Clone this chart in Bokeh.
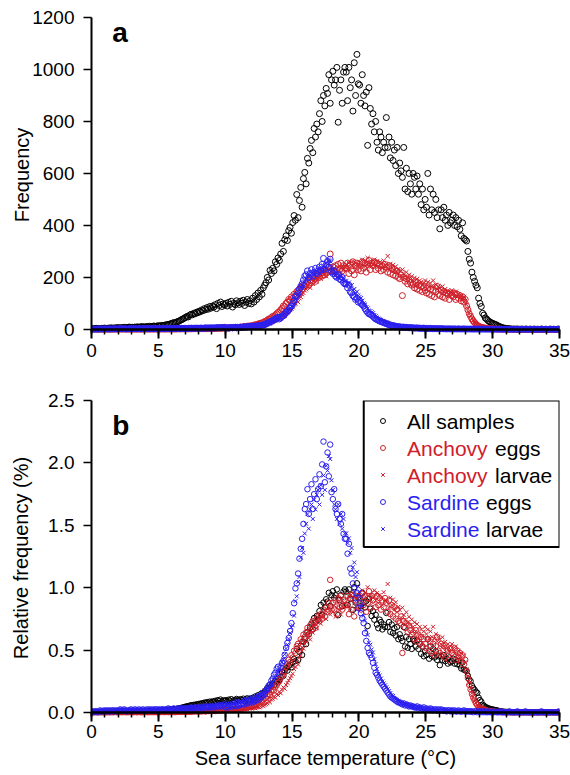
import numpy as np
from bokeh.plotting import figure
from bokeh.models import (Range1d, SingleIntervalTicker, PrintfTickFormatter,
                          Span, Label, BoxAnnotation, ColumnDataSource)
from bokeh.layouts import column
from bokeh.embed import file_html
from bokeh.resources import INLINE

FONT = "Liberation Sans"
BLACK = "#000000"
RED = "#d0202a"
BLUE = "#2a1ff0"

# temperature bins (0.1 degC wide), bin centres
bin_width = 0.1
n_bins = 350
temperature = np.round(np.arange(n_bins) * bin_width + bin_width / 2, 2)

# Frequency (counts) per 0.1 degC bin, one row per degree
all_samples = [
    2, 3, 2, 4, 3, 2, 3, 4, 3, 5,
    4, 3, 5, 4, 6, 5, 4, 6, 5, 7,
    6, 5, 7, 6, 8, 7, 6, 8, 9, 7,
    8, 7, 9, 8, 10, 8, 9, 11, 9, 10,
    9, 11, 10, 12, 10, 11, 13, 12, 11, 14,
    13, 14, 15, 14, 16, 17, 18, 19, 20, 22,
    24, 26, 25, 28, 30, 32, 35, 38, 40, 44,
    46, 50, 48, 55, 58, 56, 62, 60, 66, 64,
    70, 68, 75, 72, 80, 76, 84, 78, 88, 82,
    90, 86, 95, 80, 100, 92, 105, 88, 98, 94,
    100, 90, 104, 96, 108, 86, 100, 95, 110, 102,
    96, 108, 100, 112, 92, 105, 115, 100, 110, 98,
    120, 105, 130, 115, 140, 125, 150, 135, 160, 170,
    180, 200, 190, 227, 215, 235, 225, 260, 250, 275,
    265, 290, 331, 300, 345, 360, 342, 380, 392, 370,
    411, 438, 420, 519, 430, 496, 546, 470, 580, 604,
    560, 658, 640, 696, 727, 680, 773, 740, 790, 760,
    830, 880, 800, 900, 860, 927, 908, 980, 870, 960,
    993, 940, 960, 1008, 797, 920, 960, 870, 990, 1008,
    990, 880, 1008, 930, 960, 840, 1026, 900, 1058, 945,
    940, 870, 980, 900, 860, 913, 708, 930, 850, 790,
    830, 760, 800, 720, 690, 760, 740, 680, 720, 700,
    815, 700, 740, 660, 720, 650, 690, 630, 700, 600,
    640, 610, 585, 700, 540, 620, 530, 600, 560, 520,
    600, 585, 540, 590, 520, 560, 480, 540, 460, 500,
    470, 600, 440, 540, 460, 520, 450, 500, 430, 460,
    387, 460, 430, 470, 420, 440, 400, 450, 410, 420,
    440, 400, 430, 395, 420, 385, 360, 410, 350, 345,
    340, 300, 270, 255, 220, 200, 185, 170, 160, 120,
    100, 88, 62, 55, 44, 40, 34, 30, 27, 24,
    22, 20, 18, 15, 12, 10, 8, 6, 5, 4,
    3, 3, 2, 2, 1, 1, 1, 1, 1, 0,
    1, 0, 1, 0, 0, 1, 0, 0, 1, 0,
    0, 1, 0, 0, 0, 0, 1, 0, 0, 0,
    0, 0, 0, 1, 0, 0, 0, 0, 0, 1,
]

anchovy_eggs = [
    0, 0, 0, 0, 0, 0, 0, 0, 0, 0,
    0, 0, 0, 0, 0, 0, 0, 1, 0, 0,
    0, 1, 0, 0, 1, 0, 0, 0, 1, 0,
    0, 0, 1, 0, 0, 1, 0, 0, 0, 1,
    1, 0, 0, 1, 0, 1, 0, 1, 0, 0,
    1, 0, 1, 1, 0, 1, 1, 0, 1, 1,
    1, 1, 0, 1, 2, 1, 1, 2, 1, 2,
    2, 1, 2, 2, 1, 3, 2, 2, 3, 2,
    2, 3, 2, 3, 3, 2, 4, 3, 3, 4,
    3, 4, 3, 4, 5, 4, 5, 4, 6, 5,
    5, 6, 5, 6, 7, 6, 7, 8, 7, 8,
    8, 9, 8, 10, 11, 10, 12, 13, 12, 14,
    14, 16, 18, 17, 20, 22, 24, 23, 27, 30,
    32, 35, 40, 38, 45, 50, 48, 55, 60, 65,
    68, 75, 80, 90, 88, 100, 105, 115, 110, 125,
    120, 135, 130, 145, 150, 140, 160, 155, 170, 165,
    175, 185, 170, 190, 180, 200, 195, 185, 205, 210,
    200, 215, 205, 225, 210, 230, 220, 240, 290, 225,
    240, 225, 245, 215, 250, 230, 255, 225, 245, 235,
    235, 255, 215, 250, 225, 260, 210, 245, 255, 230,
    250, 225, 260, 235, 255, 220, 250, 265, 230, 255,
    245, 260, 230, 255, 235, 250, 225, 245, 230, 250,
    240, 220, 245, 215, 235, 210, 230, 205, 225, 200,
    195, 210, 130, 200, 185, 195, 175, 190, 180, 170,
    175, 160, 180, 155, 170, 150, 165, 145, 160, 150,
    140, 160, 135, 155, 130, 150, 125, 145, 165, 135,
    130, 150, 125, 145, 120, 140, 135, 115, 140, 130,
    125, 140, 115, 135, 120, 130, 110, 125, 105, 115,
    90, 75, 60, 50, 40, 32, 26, 20, 16, 12,
    10, 8, 7, 6, 5, 4, 3, 3, 2, 2,
    2, 1, 1, 1, 1, 0, 1, 0, 0, 0,
    0, 0, 0, 0, 0, 0, 0, 0, 0, 0,
    0, 0, 0, 0, 0, 0, 0, 0, 0, 0,
    0, 0, 0, 0, 0, 0, 0, 0, 0, 0,
    0, 0, 0, 0, 0, 0, 0, 0, 0, 0,
]

anchovy_larvae = [
    0, 0, 0, 0, 0, 0, 0, 0, 0, 0,
    0, 0, 0, 0, 0, 0, 0, 0, 0, 0,
    0, 0, 0, 1, 0, 0, 0, 0, 0, 0,
    0, 0, 0, 0, 0, 1, 0, 0, 0, 0,
    0, 0, 1, 0, 0, 0, 0, 1, 0, 0,
    0, 1, 0, 0, 1, 0, 0, 1, 0, 1,
    0, 1, 1, 0, 1, 1, 0, 1, 1, 1,
    1, 1, 1, 2, 1, 1, 2, 1, 2, 2,
    1, 2, 2, 1, 2, 2, 3, 2, 2, 3,
    2, 3, 2, 3, 3, 3, 4, 3, 4, 4,
    4, 3, 4, 5, 4, 5, 5, 6, 5, 6,
    6, 5, 7, 6, 7, 8, 7, 9, 8, 9,
    9, 10, 9, 11, 12, 11, 13, 15, 14, 16,
    18, 20, 25, 22, 28, 30, 35, 32, 40, 38,
    45, 42, 50, 55, 52, 60, 65, 70, 75, 80,
    85, 95, 100, 110, 105, 120, 125, 135, 140, 150,
    155, 165, 170, 160, 180, 175, 190, 195, 185, 200,
    205, 195, 215, 210, 225, 205, 220, 230, 215, 225,
    220, 235, 210, 230, 240, 225, 215, 245, 230, 240,
    250, 232, 255, 228, 245, 262, 240, 255, 230, 250,
    258, 245, 268, 240, 262, 250, 275, 245, 258, 242,
    252, 268, 246, 262, 240, 258, 252, 236, 264, 246,
    242, 282, 230, 252, 236, 248, 226, 242, 220, 232,
    225, 208, 230, 214, 204, 220, 198, 210, 192, 204,
    188, 198, 178, 194, 172, 188, 182, 168, 178, 188,
    172, 182, 162, 178, 166, 188, 162, 172, 156, 166,
    160, 150, 165, 145, 155, 140, 150, 135, 145, 150,
    140, 130, 145, 125, 135, 120, 130, 115, 125, 110,
    95, 80, 65, 52, 42, 34, 27, 21, 16, 12,
    10, 8, 6, 5, 4, 4, 3, 2, 2, 1,
    1, 1, 1, 0, 1, 0, 0, 0, 0, 0,
    0, 0, 0, 0, 0, 0, 0, 0, 0, 0,
    0, 0, 0, 0, 0, 0, 0, 0, 0, 0,
    0, 0, 0, 0, 0, 0, 0, 0, 0, 0,
    0, 0, 0, 0, 0, 0, 0, 0, 0, 0,
]

sardine_eggs = [
    1, 0, 1, 1, 0, 1, 2, 1, 1, 2,
    1, 2, 1, 2, 1, 2, 2, 1, 2, 1,
    2, 3, 2, 2, 3, 2, 1, 2, 2, 3,
    2, 2, 3, 2, 2, 3, 2, 2, 3, 2,
    2, 3, 2, 3, 2, 3, 2, 3, 3, 2,
    3, 2, 3, 3, 2, 3, 3, 4, 3, 3,
    3, 4, 3, 3, 4, 3, 4, 4, 3, 4,
    4, 3, 4, 4, 5, 4, 4, 5, 4, 5,
    4, 5, 5, 4, 5, 6, 5, 5, 6, 5,
    6, 5, 6, 6, 7, 6, 7, 6, 7, 8,
    5, 6, 5, 6, 7, 6, 7, 7, 6, 8,
    7, 8, 8, 9, 8, 10, 9, 11, 10, 12,
    10, 11, 12, 12, 14, 13, 15, 16, 17, 18,
    22, 24, 27, 28, 32, 34, 38, 40, 44, 46,
    40, 45, 50, 52, 58, 65, 70, 75, 82, 90,
    100, 110, 125, 130, 140, 155, 165, 175, 190, 205,
    210, 225, 200, 215, 230, 205, 220, 235, 215, 225,
    240, 228, 250, 273, 232, 248, 262, 238, 270, 222,
    215, 225, 205, 200, 210, 195, 190, 200, 180, 175,
    175, 160, 170, 145, 140, 130, 125, 115, 120, 105,
    110, 100, 95, 90, 80, 72, 65, 60, 58, 55,
    50, 45, 40, 38, 35, 32, 30, 28, 26, 24,
    22, 20, 18, 16, 15, 14, 13, 12, 11, 10,
    10, 9, 8, 9, 7, 8, 7, 6, 7, 6,
    6, 5, 5, 6, 4, 5, 4, 4, 5, 3,
    4, 3, 3, 4, 3, 2, 3, 3, 2, 3,
    2, 3, 2, 2, 2, 1, 2, 2, 1, 2,
    1, 2, 1, 1, 2, 1, 1, 1, 2, 1,
    1, 1, 1, 1, 1, 0, 1, 1, 0, 1,
    1, 0, 1, 0, 1, 0, 0, 1, 0, 0,
    0, 1, 0, 0, 0, 1, 0, 0, 0, 0,
    0, 0, 1, 0, 0, 0, 0, 0, 1, 0,
    0, 0, 0, 0, 1, 0, 0, 0, 0, 0,
    0, 0, 0, 0, 0, 0, 1, 0, 0, 0,
    0, 0, 0, 0, 0, 0, 0, 0, 0, 1,
]

sardine_larvae = [
    0, 1, 0, 0, 1, 0, 1, 0, 0, 1,
    1, 0, 1, 1, 0, 1, 1, 1, 0, 1,
    1, 1, 2, 1, 1, 2, 1, 1, 2, 1,
    1, 2, 1, 2, 2, 1, 2, 2, 1, 2,
    2, 2, 1, 2, 2, 3, 2, 2, 3, 2,
    2, 3, 2, 3, 3, 2, 3, 3, 3, 4,
    3, 3, 4, 3, 4, 4, 3, 4, 4, 5,
    4, 4, 5, 4, 5, 5, 4, 5, 5, 6,
    5, 5, 6, 5, 6, 6, 7, 6, 6, 7,
    6, 7, 7, 6, 8, 7, 8, 7, 8, 9,
    8, 9, 8, 9, 10, 9, 10, 11, 10, 12,
    11, 12, 11, 13, 12, 14, 13, 15, 14, 16,
    15, 14, 16, 18, 17, 19, 18, 21, 20, 23,
    20, 23, 24, 27, 28, 31, 33, 36, 38, 42,
    44, 48, 52, 55, 60, 66, 70, 76, 82, 88,
    90, 100, 115, 120, 135, 140, 160, 170, 165, 185,
    195, 205, 190, 210, 215, 200, 220, 210, 225, 230,
    215, 235, 225, 245, 230, 255, 250, 265, 262, 240,
    230, 215, 210, 200, 215, 195, 205, 190, 200, 185,
    185, 175, 180, 165, 170, 150, 155, 140, 145, 130,
    125, 120, 110, 100, 95, 85, 80, 72, 70, 65,
    62, 55, 50, 45, 40, 38, 35, 32, 30, 28,
    26, 24, 22, 20, 18, 17, 15, 14, 13, 12,
    11, 10, 10, 9, 9, 8, 8, 7, 7, 6,
    6, 6, 5, 5, 5, 4, 4, 4, 3, 3,
    3, 3, 3, 2, 3, 2, 2, 2, 2, 2,
    2, 1, 2, 2, 1, 1, 2, 1, 1, 1,
    1, 1, 1, 1, 0, 1, 1, 0, 1, 1,
    1, 0, 1, 0, 1, 0, 0, 1, 0, 0,
    0, 1, 0, 0, 0, 1, 0, 0, 0, 0,
    0, 0, 0, 1, 0, 0, 0, 0, 0, 0,
    0, 0, 0, 0, 0, 0, 0, 1, 0, 0,
    0, 0, 0, 0, 0, 0, 0, 0, 0, 0,
    0, 0, 0, 0, 0, 0, 0, 0, 0, 0,
    0, 0, 0, 0, 0, 0, 0, 0, 0, 0,
]

series = [
    ("All samples", all_samples, BLACK, "circle"),
    ("Anchovy eggs", anchovy_eggs, RED, "circle"),
    ("Anchovy larvae", anchovy_larvae, RED, "x"),
    ("Sardine eggs", sardine_eggs, BLUE, "circle"),
    ("Sardine larvae", sardine_larvae, BLUE, "x"),
]

x_ticks_major = 5
freq_tick = 200
rel_tick = 0.5


def make_fig(height, top, bottom, y_end, y_pad, ytick, ylabel, label_standoff,
             title_standoff, xlabel=None, fmt=None):
    p = figure(width=570, height=height, x_range=Range1d(0, 35),
               y_range=Range1d(-y_pad, y_end), output_backend="svg",
               toolbar_location=None, min_border_left=91, min_border_right=11,
               min_border_top=top, min_border_bottom=bottom)
    p.outline_line_color = None
    p.grid.visible = False
    p.background_fill_color = "white"

    xa = p.xaxis[0]
    xa.ticker = SingleIntervalTicker(interval=x_ticks_major, num_minor_ticks=5)
    xa.axis_line_color = None
    xa.major_tick_in = 3
    xa.major_tick_out = 6
    xa.minor_tick_in = 3
    xa.minor_tick_out = 2
    xa.major_tick_line_width = 2
    xa.minor_tick_line_width = 1.5
    xa.major_tick_line_color = BLACK
    xa.minor_tick_line_color = BLACK
    xa.major_label_text_font = FONT
    xa.major_label_text_font_size = "19px"
    xa.major_label_text_color = BLACK
    xa.major_label_standoff = label_standoff
    if xlabel:
        xa.axis_label = xlabel
        xa.axis_label_text_font = FONT
        xa.axis_label_text_font_size = "20px"
        xa.axis_label_text_font_style = "normal"
        xa.axis_label_text_color = BLACK
        xa.axis_label_standoff = 6

    ya = p.yaxis[0]
    ya.ticker = SingleIntervalTicker(interval=ytick, num_minor_ticks=0)
    ya.axis_line_width = 2
    ya.axis_line_color = BLACK
    ya.major_tick_in = 0
    ya.major_tick_out = 8
    ya.major_tick_line_width = 1.5
    ya.major_tick_line_color = BLACK
    ya.minor_tick_line_color = None
    ya.major_label_text_font = FONT
    ya.major_label_text_font_size = "19px"
    ya.major_label_text_color = BLACK
    ya.major_label_standoff = 9
    ya.axis_label = ylabel
    ya.axis_label_text_font = FONT
    ya.axis_label_text_font_size = "20px"
    ya.axis_label_text_font_style = "normal"
    ya.axis_label_text_color = BLACK
    ya.axis_label_standoff = title_standoff
    if fmt:
        ya.formatter = PrintfTickFormatter(format=fmt)

    p.add_layout(Span(location=0, dimension="width", line_color=BLACK,
                      line_width=2.5))
    return p


# ---- panel a : frequency
pa = make_fig(372, 17, 40, 1200, 12, freq_tick, "Frequency", 5, -4)
for name, vals, col, mk in series:
    pa.scatter(x=temperature, y=np.array(vals, dtype=float), marker=mk, size=6,
               line_color=col, fill_color=None, line_width=1)
pa.add_layout(Label(x=1.55, y=1142, text="a", text_font=FONT,
                    text_font_size="28px", text_font_style="bold",
                    text_color=BLACK, text_baseline="alphabetic"))

# ---- panel b : relative frequency (%)
pb = make_fig(402, 28, 59, 2.5, 0.025, rel_tick, "Relative frequency (%)", 3, 13,
              xlabel="Sea surface temperature (\u00b0C)", fmt="%.1f")
for name, vals, col, mk in series:
    v = np.array(vals, dtype=float)
    rel = 100.0 * v / v.sum()
    pb.scatter(x=temperature, y=rel, marker=mk, size=5.5, line_color=col,
               fill_color=None, line_width=1)
pb.add_layout(Label(x=1.55, y=2.30, text="b", text_font=FONT,
                    text_font_size="28px", text_font_style="bold",
                    text_color=BLACK, text_baseline="alphabetic"))

# legend (built by hand: the species names are coloured)
px_per_unit = 124.75
leg_left, leg_bottom = 20.36, 1.325
pb.add_layout(BoxAnnotation(left=leg_left, right=35, bottom=leg_bottom, top=2.5,
                            fill_color="white", fill_alpha=1.0,
                            line_color=BLACK, line_alpha=1.0, line_width=2))
row_y = [2.5 - (20.5 + 27.0 * i) / px_per_unit for i in range(len(series))]
marker_x = 21.8
text_x = 23.6
leg_src = ColumnDataSource(dict(
    x=[marker_x] * len(series), y=row_y,
    marker=[s[3] for s in series], color=[s[2] for s in series]))
r = pb.scatter(x="x", y="y", marker="marker", line_color="color",
               fill_color=None, size=5, line_width=1, source=leg_src)
r.level = "overlay"

legend_parts = [
    ("All samples", BLACK, None, 0),
    ("Anchovy", RED, "eggs", 88),
    ("Anchovy", RED, "larvae", 88),
    ("Sardine", BLUE, "eggs", 79),
    ("Sardine", BLUE, "larvae", 79),
]
for (first, col, second, off), yy in zip(legend_parts, row_y):
    pb.add_layout(Label(x=text_x, y=yy, text=first, text_font=FONT,
                        text_font_size="21px", text_color=col,
                        text_baseline="middle", text_align="left",
                        level="overlay"))
    if second:
        pb.add_layout(Label(x=text_x, y=yy, x_offset=off, text=second,
                            text_font=FONT, text_font_size="21px",
                            text_color=BLACK, text_baseline="middle",
                            text_align="left", level="overlay"))

layout = column(pa, pb)
open("out.html", "w").write(file_html(layout, INLINE))
